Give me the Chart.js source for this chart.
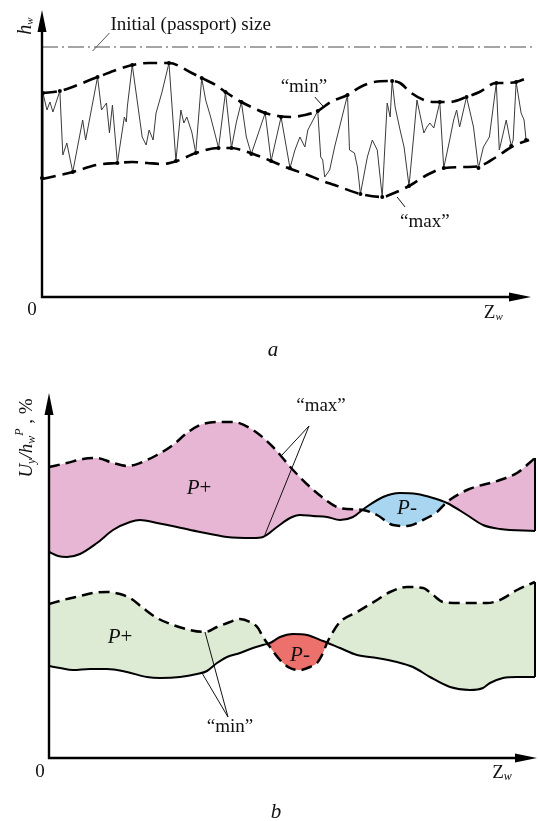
<!DOCTYPE html>
<html>
<head>
<meta charset="utf-8">
<script src="https://cdn.jsdelivr.net/npm/chart.js@4.4.1/dist/chart.umd.min.js"></script>
<style>
html, body { margin: 0; padding: 0; background: #fff; }
#wrap { position: relative; width: 538px; height: 821px; }
canvas { position: absolute; left: 0; }
</style>
</head>
<body>
<div id="wrap">
  <canvas id="chartA" width="538" height="370" style="top:0"></canvas>
  <canvas id="chartB" width="538" height="451" style="top:370px"></canvas>
</div>
<script>
// (a) profile height h_w along Z_w, arbitrary axis units [z, h]
const passportH = 250;
const envMin = [[1,204],[18,206],[28,209],[56,220],[91,232],[108,234],[128,234],[151,224],[161,219],[175,212],[185,205],[201,195],[211,190],[225,184],[238,181],[251,180],[265,182],[278,186],[291,195],[308,202],[321,210],[335,215],[351,216],[361,214],[371,205],[385,197],[395,195],[411,195],[428,200],[441,205],[458,214],[465,214],[478,215],[491,220]];
const envMax = [[0,118],[18,122],[31,125],[55,132],[76,134],[91,135],[106,134],[121,133],[136,136],[155,144],[178,149],[191,149],[201,147],[213,143],[231,136],[248,129],[268,122],[283,116],[295,112],[321,103],[343,100],[355,104],[370,111],[388,122],[406,129],[428,130],[441,131],[458,140],[475,151],[491,157]];
const zigzag = [[0,119],[1,204],[5,187],[8,195],[11,185],[14,194],[18,206],[21,142],[25,154],[31,125],[41,177],[44,157],[56,220],[60,187],[65,194],[68,164],[71,192],[76,134],[83,180],[85,175],[86,190],[91,232],[101,160],[105,152],[108,167],[112,157],[115,184],[121,205],[128,234],[135,136],[140,187],[143,174],[146,180],[151,165],[155,144],[161,219],[165,197],[170,180],[178,149],[185,205],[191,149],[196,175],[201,195],[206,160],[211,143],[225,184],[231,136],[241,180],[250,129],[255,147],[260,160],[265,150],[268,167],[278,186],[281,140],[283,137],[285,120],[290,127],[295,150],[300,170],[308,202],[310,147],[315,144],[318,130],[321,103],[328,140],[333,157],[338,147],[343,100],[346,157],[348,194],[351,180],[353,216],[356,190],[361,167],[365,150],[370,111],[375,164],[378,197],[385,164],[388,170],[391,174],[395,169],[401,195],[405,129],[411,157],[415,177],[418,187],[421,170],[428,200],[435,170],[440,129],[445,150],[451,160],[458,214],[461,147],[465,164],[468,177],[473,151],[475,157],[478,215],[483,184],[486,177],[488,157]];

// (b) U_y / h_w^P, arbitrary axis units [z, u]
const maxDashed = [[0,291],[18,295],[34,299],[48,300],[64,295],[79,292],[91,295],[108,303],[124,313],[138,325],[151,333],[168,336],[184,336],[204,328],[224,311],[244,288],[268,265],[291,250],[314,248],[328,243],[344,233],[358,232],[374,238],[388,246],[398,256],[418,268],[451,278],[468,285],[486,300]];
const maxSolid = [[0,206],[9,202],[18,201],[31,204],[48,215],[64,228],[81,236],[91,238],[108,235],[128,231],[151,226],[178,221],[204,220],[214,221],[228,231],[241,240],[251,243],[264,242],[278,241],[291,238],[304,241],[316,250],[334,261],[351,265],[368,264],[384,260],[398,255],[418,243],[434,233],[451,229],[486,227]];
const minDashed = [[0,154],[14,158],[31,162],[44,165],[58,166],[71,164],[81,160],[94,150],[108,140],[124,133],[141,128],[156,126],[168,131],[181,136],[191,139],[201,136],[209,130],[214,121],[221,111],[231,98],[241,90],[251,88],[261,91],[268,95],[274,105],[278,115],[281,121],[291,136],[308,146],[328,158],[341,166],[358,171],[374,170],[384,163],[394,156],[411,155],[438,155],[451,158],[468,168],[486,176]];
const minSolid = [[0,92],[11,90],[24,88],[41,89],[58,89],[78,86],[98,81],[111,80],[131,81],[148,84],[158,87],[168,95],[178,101],[191,105],[204,110],[214,113],[221,115],[231,121],[244,124],[258,123],[274,117],[291,110],[308,103],[328,100],[348,96],[364,91],[381,81],[401,71],[421,68],[434,70],[441,75],[454,80],[468,81],[486,81]];

const SERIF = '"Liberation Serif", "DejaVu Serif", serif';
const PINK = 'rgb(231,182,212)', BLUE = 'rgb(168,214,240)', GREEN = 'rgb(221,235,212)', RED = 'rgb(236,112,108)';

const xy = arr => arr.map(([x, y]) => ({x, y}));
function interp(arr, z) {
    for (let i = 1; i < arr.length; i++) {
        if (z <= arr[i][0]) {
            const [x0, y0] = arr[i - 1], [x1, y1] = arr[i];
            return y0 + (y1 - y0) * (z - x0) / (x1 - x0);
        }
    }
    return arr[arr.length - 1][1];
}

function drawRich(ctx, parts, x, y) {
    let w = 0;
    parts.forEach(p => { ctx.font = p[1]; w += ctx.measureText(p[0]).width; });
    let cx = x - w / 2;
    parts.forEach(p => {
        ctx.font = p[1];
        ctx.fillText(p[0], cx, y + (p[2] || 0));
        cx += ctx.measureText(p[0]).width;
    });
}

function line(ctx, pts, color, width) {
    ctx.save();
    ctx.strokeStyle = color; ctx.lineWidth = width;
    ctx.beginPath(); ctx.moveTo(pts[0], pts[1]); ctx.lineTo(pts[2], pts[3]);
    if (pts.length > 4) { ctx.moveTo(pts[0], pts[1]); ctx.lineTo(pts[4], pts[5]); }
    ctx.stroke(); ctx.restore();
}

function drawAxes(chart, xTip) {
    const {ctx, chartArea: a, scales} = chart;
    const x0 = scales.x.getPixelForValue(0), y0 = scales.y.getPixelForValue(0);
    const xt = scales.x.getPixelForValue(xTip);
    ctx.save();
    ctx.strokeStyle = '#000'; ctx.fillStyle = '#000'; ctx.lineWidth = 2.4;
    ctx.beginPath();
    ctx.moveTo(x0, y0 + 1); ctx.lineTo(x0, a.top + 18);
    ctx.moveTo(x0 - 1, y0); ctx.lineTo(xt - 18, y0);
    ctx.stroke();
    ctx.beginPath(); ctx.moveTo(x0, a.top); ctx.lineTo(x0 - 4.5, a.top + 22); ctx.lineTo(x0 + 4.5, a.top + 22); ctx.closePath(); ctx.fill();
    ctx.beginPath(); ctx.moveTo(xt, y0); ctx.lineTo(xt - 22, y0 - 4.5); ctx.lineTo(xt - 22, y0 + 4.5); ctx.closePath(); ctx.fill();
    ctx.restore();
}

const baseOptions = (pad, xMax, yMax) => ({
    responsive: false,
    animation: false,
    layout: {padding: pad},
    scales: {
        x: {type: 'linear', display: false, min: 0, max: xMax},
        y: {type: 'linear', display: false, min: 0, max: yMax}
    },
    plugins: {legend: {display: false}, tooltip: {enabled: false}, filler: {drawTime: 'beforeDatasetsDraw'}},
    elements: {point: {radius: 0}}
});

// ---- chart (a)
const dashed = (arr, dash) => ({data: xy(arr), showLine: true, borderColor: '#000', borderWidth: 2.6,
    borderDash: dash, cubicInterpolationMode: 'monotone', pointRadius: 0, clip: false});

const plotA = {
    id: 'plotA',
    afterDatasetsDraw(chart) {
        const {ctx, scales} = chart;
        const X = v => scales.x.getPixelForValue(v), Y = v => scales.y.getPixelForValue(v);
        drawAxes(chart, 493);
        ctx.save();
        ctx.fillStyle = '#111'; ctx.textBaseline = 'middle';
        line(ctx, [X(51), Y(246), X(68), Y(264)], '#555', 1);
        ctx.textAlign = 'left';
        ctx.font = '19px ' + SERIF;
        ctx.fillText('Initial (passport) size', X(69), Y(272));
        ctx.textAlign = 'left';
        // h_w rotated
        ctx.save(); ctx.translate(X(-16), Y(271)); ctx.rotate(-Math.PI / 2);
        drawRich(ctx, [['h', 'italic 20px ' + SERIF], ['w', 'italic 11px ' + SERIF, 4]], 0, 0);
        ctx.restore();
        drawRich(ctx, [['0', '19px ' + SERIF]], X(-10), Y(-13));
        drawRich(ctx, [['Z', '19px ' + SERIF], ['w', 'italic 11px ' + SERIF, 4]], X(455), Y(-16));
        line(ctx, [X(275), Y(200), X(285), Y(189)], '#111', 1);
        drawRich(ctx, [['\u201Cmin\u201D', '19px ' + SERIF]], X(264), Y(210));
        line(ctx, [X(358), Y(100), X(366), Y(90)], '#111', 1);
        drawRich(ctx, [['\u201Cmax\u201D', '19px ' + SERIF]], X(386), Y(75));
        drawRich(ctx, [['a', 'italic 21px ' + SERIF]], X(233), Y(-53));
        ctx.restore();
    }
};

new Chart(document.getElementById('chartA'), {
    type: 'scatter',
    data: {
        datasets: [
            {data: xy([[0, passportH], [496, passportH]]), showLine: true, borderColor: '#888', borderWidth: 1.4,
                borderDash: [16, 4, 2, 4], pointRadius: 0, clip: false},
            dashed(envMin, [14, 7]),
            dashed(envMax, [14, 7]),
            {data: xy(zigzag), showLine: true, borderColor: '#3a3a3a', borderWidth: 1, tension: 0, clip: false,
                pointBackgroundColor: '#000', pointBorderWidth: 0,
                pointRadius: c => {
                    const p = c.raw;
                    if (!p) return 0;
                    return (Math.abs(p.y - interp(envMin, p.x)) < 4 || Math.abs(p.y - interp(envMax, p.x)) < 4) ? 2 : 0;
                }}
        ]
    },
    options: baseOptions({left: 42, right: 0, top: 10, bottom: 370 - 297}, 496, 287),
    plugins: [plotA]
});

// ---- chart (b)
const curve = (arr, dash, fill) => ({data: xy(arr), showLine: true, borderColor: '#000', borderWidth: dash ? 2.5 : 2,
    borderDash: dash || [], cubicInterpolationMode: 'monotone', pointRadius: 0, clip: false, fill: fill || false});
const edge = (a, b) => {
    const z = a[a.length - 1][0];
    return {data: xy([[z, a[a.length - 1][1]], [z, b[b.length - 1][1]]]), showLine: true, borderColor: '#000',
        borderWidth: 2, pointRadius: 0, clip: false};
};

const plotB = {
    id: 'plotB',
    afterDatasetsDraw(chart) {
        const {ctx, scales} = chart;
        const X = v => scales.x.getPixelForValue(v), Y = v => scales.y.getPixelForValue(v);
        drawAxes(chart, 488);
        ctx.save();
        ctx.fillStyle = '#111'; ctx.textBaseline = 'middle';
        const it = s => 'italic ' + s + 'px ' + SERIF;
        ctx.save(); ctx.translate(X(-22), Y(320)); ctx.rotate(-Math.PI / 2);
        drawRich(ctx, [['U', it(19)], ['y', it(12), 5], ['/', it(19)], ['h', it(19)], ['w', it(12), 5],
            ['P', it(12), -7], [' , %', '19px ' + SERIF]], 0, 0);
        ctx.restore();
        line(ctx, [X(260), Y(332), X(233), Y(303), X(215), Y(221)], '#111', 1);
        drawRich(ctx, [['\u201Cmax\u201D', '19px ' + SERIF]], X(272), Y(352));
        line(ctx, [X(179), Y(41), X(156), Y(126), X(153), Y(85)], '#111', 1);
        drawRich(ctx, [['\u201Cmin\u201D', '19px ' + SERIF]], X(181), Y(31));
        drawRich(ctx, [['P', it(21)], ['+', '21px ' + SERIF]], X(150), Y(270));
        drawRich(ctx, [['P', it(21)], ['-', '21px ' + SERIF]], X(358), Y(250));
        drawRich(ctx, [['P', it(21)], ['+', '21px ' + SERIF]], X(71), Y(121));
        drawRich(ctx, [['P', it(21)], ['-', '21px ' + SERIF]], X(251), Y(103));
        drawRich(ctx, [['0', '19px ' + SERIF]], X(-9), Y(-14));
        drawRich(ctx, [['Z', '19px ' + SERIF], ['w', it(12), 4]], X(453), Y(-15));
        drawRich(ctx, [['b', it(21)]], X(227), Y(-54));
        ctx.restore();
    }
};

new Chart(document.getElementById('chartB'), {
    type: 'scatter',
    data: {
        datasets: [
            curve(maxDashed, [11, 6], {target: 1, above: PINK, below: BLUE}),
            curve(maxSolid),
            curve(minDashed, [11, 6], {target: 3, above: GREEN, below: RED}),
            curve(minSolid),
            edge(maxDashed, maxSolid),
            edge(minDashed, minSolid)
        ]
    },
    options: baseOptions({left: 49, right: 0, top: 23, bottom: 451 - 388}, 489, 365),
    plugins: [plotB]
});
</script>
</body>
</html>
